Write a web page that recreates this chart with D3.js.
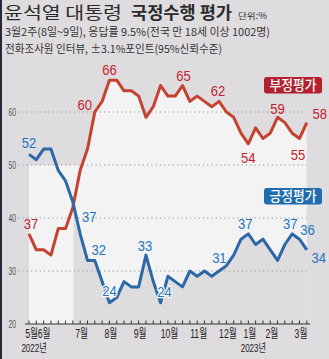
<!DOCTYPE html>
<html><head><meta charset="utf-8">
<script src="https://cdn.jsdelivr.net/npm/d3@7"></script>
<style>
html,body{margin:0;padding:0;background:#dfdcdf;}
svg{display:block;}
</style></head><body>
<svg id="c" width="329" height="359"></svg>
<script>
// ---- data ----
const weeks = ["2022-05-2","2022-05-3","2022-06-1","2022-06-2","2022-06-3","2022-06-4","2022-06-5",
  "2022-07-1","2022-07-2","2022-07-3","2022-07-4","2022-08-1","2022-08-2","2022-08-3","2022-08-4",
  "2022-09-1","2022-09-3","2022-09-4","2022-09-5","2022-10-1","2022-10-2","2022-10-3","2022-10-4",
  "2022-11-1","2022-11-2","2022-11-3","2022-11-4","2022-12-1","2022-12-2","2022-12-3",
  "2023-01-1","2023-01-2","2023-01-3","2023-02-1","2023-02-2","2023-02-3","2023-02-4","2023-03-1","2023-03-2"];
const positive = [52,51,53,53,49,47,43,37,32,32,28,24,25,28,27,27,33,28,24,29,28,27,30,29,30,29,30,31,33,36,37,35,36,34,32,35,37,36,34];
const negative = [37,34,34,33,38,38,42,49,53,60,62,66,66,64,64,63,59,61,65,63,63,65,62,63,62,61,62,60,59,56,54,57,55,56,59,58,56,55,58];
const yTicks = [20,30,40,50,60];
const monthLabels = [["2022-05-2","5월"],["2022-06-1","6월"],["2022-07-1","7월"],["2022-08-1","8월"],["2022-09-1","9월"],
  ["2022-10-1","10월"],["2022-11-1","11월"],["2022-12-1","12월"],["2023-01-1","1월"],["2023-02-1","2월"],["2023-03-1","3월"]];
const yearLabels = [["2022-05-2","2022년"],["2023-01-1","2023년"]];
const negLabelWeeks = ["2022-05-2","2022-07-3","2022-08-1","2022-10-3","2022-11-4","2023-01-1","2023-02-2","2023-03-1","2023-03-2"];
const posLabelWeeks = ["2022-05-2","2022-07-1","2022-07-3","2022-08-1","2022-09-3","2022-09-5","2022-12-1","2023-01-1","2023-02-4","2023-03-1","2023-03-2"];
const title1 = "윤석열 대통령", title2 = "국정수행 평가", unit = "단위:%";
const sub1 = "3월2주(8일~9일), 응답률 9.5%(전국 만 18세 이상 1002명)";
const sub2 = "전화조사원 인터뷰, ±3.1%포인트(95%신뢰수준)";
const legendNeg = "부정평가", legendPos = "긍정평가";

// ---- styles / layout ----
const W=329,H=359;
const C = {bg:"#dfdcdf", light:"#f3f3f3", redLine:"#c3432f", blueLine:"#2c67a6",
  redText:"#c1232d", blueText:"#2176bd", redBox:"#b3212e", blueBox:"#1f6cae", text:"#2b2b2b"};
const svg = d3.select("#c");
const idx = d => weeks.indexOf(d);
const x = d3.scaleLinear().domain([0, weeks.length-1]).range([29, 306.8]);
const y = d3.scaleLinear().domain([20, 60]).range([324, 112]);

svg.append("rect").attr("width",W).attr("height",H).attr("fill",C.bg);
svg.append("rect").attr("width",2).attr("height",H).attr("fill","#262a38");

// light region: under max(negative, 50)
function maxLine(a, floor){
  const pts=[];
  for(let i=0;i<a.length;i++){
    pts.push({t:i, v:Math.max(a[i],floor)});
    if(i<a.length-1){
      const d0=a[i]-floor, d1=a[i+1]-floor;
      if(d0*d1<0){ const t=i+d0/(d0-d1); pts.push({t, v:floor}); }
    }
  }
  return pts.sort((p,q)=>p.t-q.t);
}
const area = d3.area().x(d=>x(d.t)).y0(y(20)).y1(d=>y(d.v));
svg.append("path").attr("d", area(maxLine(negative,50))).attr("fill",C.light);

// gray region under positive where positive < negative
const runs=[]; let cur=null;
for(let i=0;i<positive.length;i++){
  const d0 = positive[i]-negative[i];
  if(d0<=0){ if(!cur){cur=[];runs.push(cur);} cur.push({t:i,v:positive[i]}); }
  if(i<positive.length-1){
    const d1 = positive[i+1]-negative[i+1];
    if(d0*d1<0){
      const f=d0/(d0-d1), t=i+f, v=positive[i]+(positive[i+1]-positive[i])*f;
      if(d0>0){ cur=[{t,v}]; runs.push(cur);} else { cur.push({t,v}); cur=null; }
    }
  }
}
runs.forEach(r=>svg.append("path").attr("d",area(r)).attr("fill",C.bg));

// gridlines
yTicks.filter(v=>v>20).forEach(v=>{
  svg.append("line").attr("x1",18).attr("x2",307).attr("y1",y(v)).attr("y2",y(v))
    .attr("stroke","#9a9a9a").attr("stroke-width",1).attr("stroke-dasharray","1.3,3");
});
// y labels
yTicks.forEach(v=>{
  svg.append("text").attr("x",16).attr("y",y(v)+3.5).attr("text-anchor","end")
    .attr("font-family","Liberation Sans Narrow, Liberation Sans, Arial").attr("font-size",10)
    .attr("textLength",7.6).attr("lengthAdjust","spacingAndGlyphs").attr("fill","#555").text(v);
});
// x axis
const axisY = y(20);
svg.append("line").attr("x1",25).attr("x2",310).attr("y1",axisY).attr("y2",axisY).attr("stroke","#333").attr("stroke-width",1);
weeks.forEach((w,i)=>{
  svg.append("line").attr("x1",x(i)).attr("x2",x(i)).attr("y1",axisY).attr("y2",axisY-3.5).attr("stroke","#333").attr("stroke-width",1);
});
function sText(g, str, cx, by, size, sx, fill, family, weight){
  return g.append("text").attr("transform",`translate(${cx},${by}) scale(${sx},1)`)
    .attr("text-anchor","middle").attr("font-size",size).attr("font-family",family)
    .attr("font-weight",weight||400).attr("fill",fill).text(str);
}
monthLabels.forEach(([w,l],k)=>{
  sText(svg, l, x(idx(w))+(k===0?2.5:k===1?0.5:1.5), 338, 12, 0.72, "#222", "Liberation Sans, Noto Sans CJK KR");
});
yearLabels.forEach(([w,l])=>{
  sText(svg, l, x(idx(w))+5, 352, 11, 0.73, "#222", "Liberation Sans, Noto Sans CJK KR");
});

// lines
const line = d3.line().x((d,i)=>x(i)).y(d=>y(d)).curve(d3.curveLinear);
svg.append("path").attr("d",line(negative)).attr("fill","none").attr("stroke",C.redLine).attr("stroke-width",3).attr("stroke-linejoin","round");
svg.append("path").attr("d",line(positive)).attr("fill","none").attr("stroke",C.blueLine).attr("stroke-width",3).attr("stroke-linejoin","round");

// value labels
const negOff = {"2022-05-2":[2,-5],"2022-07-3":[-10,-2],"2022-08-1":[0,-5],"2022-10-3":[1,-5],"2022-11-4":[-1,-5],
  "2023-01-1":[0,19],"2023-02-2":[0,-3],"2023-03-1":[-1.5,21],"2023-03-2":[13,-3.5]};
const posOff = {"2022-05-2":[0,-6],"2022-07-1":[9,-12],"2022-07-3":[4,-5],"2022-08-1":[0,-7],"2022-09-3":[-1,-4],
  "2022-09-5":[4,-6],"2022-12-1":[-7,-3],"2023-01-1":[-3,-5],"2023-02-4":[-2,-5],"2023-03-1":[8,-4],"2023-03-2":[12,13]};
function valLabel(w, arr, off, color){
  const i=idx(w), v=arr[i];
  const t = svg.append("text").attr("x",x(i)+off[0]).attr("y",y(v)+off[1]).attr("text-anchor","middle")
    .attr("font-family","Liberation Sans Narrow, Liberation Sans, Arial").attr("font-size",15)
    .attr("textLength",14.5).attr("lengthAdjust","spacingAndGlyphs").attr("fill",color).text(v);
  if(v===24) t.attr("stroke","#fff").attr("stroke-width",2.5).attr("paint-order","stroke").attr("stroke-linejoin","round");
}
negLabelWeeks.forEach(w=>valLabel(w,negative,negOff[w],C.redText));
posLabelWeeks.forEach(w=>valLabel(w,positive,posOff[w],C.blueText));

// legend boxes
function legend(label, yTop, color){
  svg.append("rect").attr("x",264).attr("y",yTop).attr("width",58).attr("height",16.5).attr("rx",3).attr("fill",color);
  svg.append("text").attr("x",293).attr("y",yTop+13).attr("text-anchor","middle").attr("font-family","Noto Sans CJK KR")
    .attr("font-size",13.5).attr("font-weight",500).attr("textLength",47).attr("lengthAdjust","spacingAndGlyphs").attr("fill","#fff").text(label);
}
legend(legendNeg, 77, C.redBox);
legend(legendPos, 188, C.blueBox);

// titles
const ff="Noto Sans CJK KR";
svg.append("text").attr("x",4).attr("y",19.2).attr("font-family",ff).attr("font-size",16.5).attr("font-weight",400)
  .attr("textLength",118).attr("lengthAdjust","spacingAndGlyphs").attr("fill",C.text).text(title1);
svg.append("text").attr("x",131).attr("y",19.2).attr("font-family",ff).attr("font-size",16.5).attr("font-weight",700)
  .attr("textLength",101).attr("lengthAdjust","spacingAndGlyphs").attr("fill",C.text).text(title2);
svg.append("text").attr("x",238).attr("y",18.5).attr("font-family",ff).attr("font-size",8.5)
  .attr("textLength",29).attr("lengthAdjust","spacingAndGlyphs").attr("fill",C.text).text(unit);
svg.append("text").attr("x",5).attr("y",36).attr("font-family",ff).attr("font-size",11)
  .attr("textLength",265).attr("lengthAdjust","spacingAndGlyphs").attr("fill","#333").text(sub1);
svg.append("text").attr("x",5).attr("y",53).attr("font-family",ff).attr("font-size",11)
  .attr("textLength",217).attr("lengthAdjust","spacingAndGlyphs").attr("fill","#333").text(sub2);
</script>
</body></html>
